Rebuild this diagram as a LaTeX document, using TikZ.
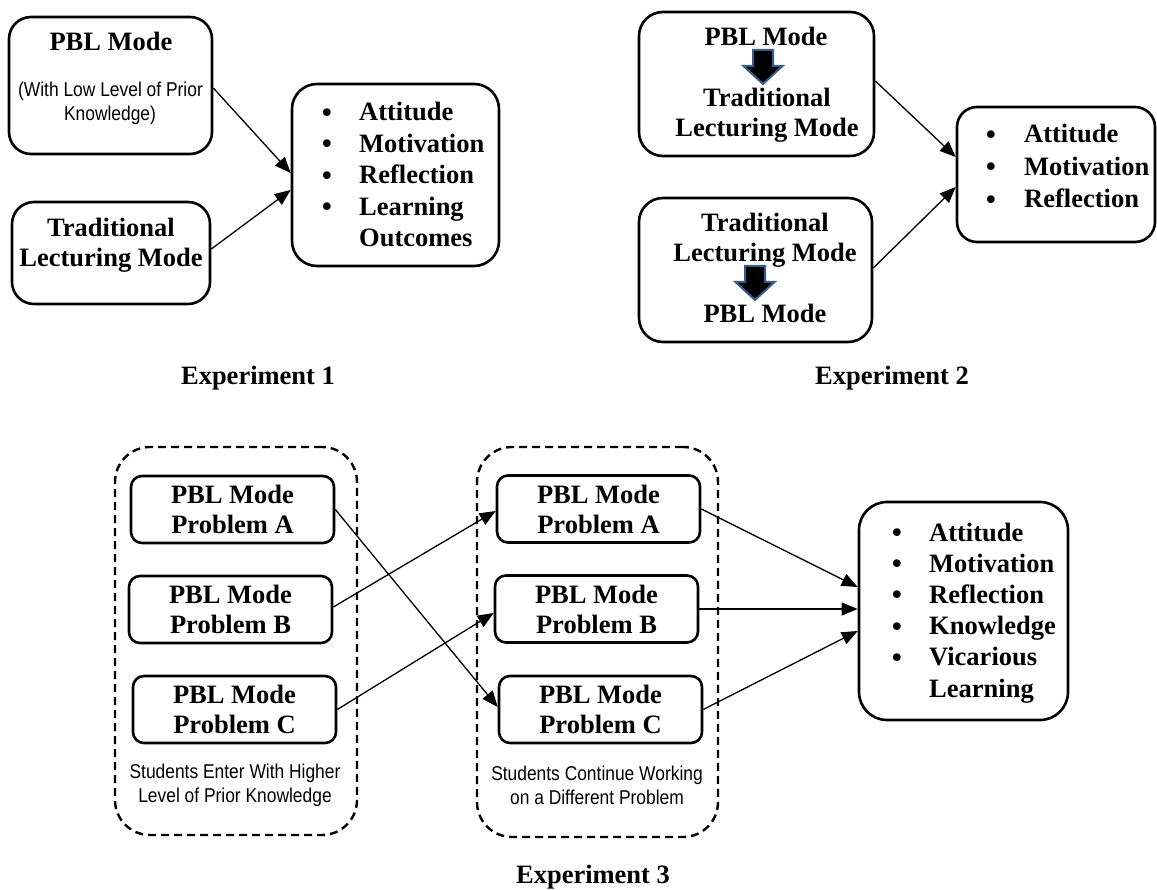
\documentclass[tikz,border=0pt]{standalone}
\usepackage{fontspec}
\setmainfont{Liberation Serif}
\newfontfamily\narrowsf[FakeStretch=0.87]{Liberation Sans}
\newfontfamily\dotfont{DejaVu Sans}
\usetikzlibrary{arrows.meta,calc}
\definecolor{arrowedge}{RGB}{56,93,138}

\begin{document}
\begin{tikzpicture}[x=1pt,y=-1pt,
    box/.style={draw,line width=2.6pt,rounded corners=22pt,inner sep=0pt},
    pbox/.style={box,rounded corners=11pt,minimum width=203pt,minimum height=67pt,
      align=center,font=\bfseries\fontsize{26.5}{30}\selectfont},
    group/.style={draw,line width=2.4pt,dash pattern=on 8pt off 5pt,rounded corners=35pt,inner sep=0pt},
    lab/.style={font=\bfseries\fontsize{26.5}{30}\selectfont,inner sep=0pt,anchor=base},
    item/.style={lab,anchor=base west},
    dot/.style={font=\dotfont\fontsize{26.5}{30}\selectfont,inner sep=0pt,anchor=base,yshift=-1.5pt},
    note/.style={font=\narrowsf\fontsize{20}{24}\selectfont,inner sep=0pt,anchor=base},
    link/.style={-{Triangle[length=16pt,width=13pt]},line width=1.3pt},
    blockarrow/.style={fill=black,draw=arrowedge,line width=2pt,line join=miter}]
  \useasboundingbox (0,0) rectangle (1157,890);

  % Experiment 1
  \node[box,minimum width=203pt,minimum height=137pt] (pbl1) at (110.5,85.5) {};
  \node[lab] (pbl1t) at (111,51) {PBL Mode};
  \node[note] (pbl1n1) at (110.5,97) {(With Low Level of Prior};
  \node[note] (pbl1n2) at (110,121) {Knowledge)};
  \node[box,minimum width=198pt,minimum height=102pt] (trad1) at (111,253) {};
  \node[lab] (trad1t1) at (111,237) {Traditional};
  \node[lab] (trad1t2) at (111,267) {Lecturing Mode};
  \node[box,rounded corners=25pt,minimum width=207pt,minimum height=182pt] (out1) at (395.5,175) {};
  \foreach \w/\mk [count=\i from 0] in {Attitude/1,Motivation/1,Reflection/1,Learning/1,Outcomes/0}{
    \node[item] (out1-\i) at (359,121+31.5*\i) {\w};
    \ifnum\mk=1 \node[dot] (out1-dot\i) at (327,121+31.5*\i) {•};\fi}
  \draw[link] ($(pbl1.east)+(0,2.5)$) -- ($(out1.west)+(0,-2)$);
  \draw[link] ($(trad1.east)+(0,-4)$) -- ($(out1.west)+(0,15)$);
  \node[lab] (exp1) at (258,385) {Experiment 1};

  % Experiment 2
  \node[box,rounded corners=24pt,minimum width=235pt,minimum height=144pt] (mode2a) at (756.5,84) {};
  \node[lab] (mode2a1) at (766,46) {PBL Mode};
  \node[lab] (mode2a2) at (767,107) {Traditional};
  \node[lab] (mode2a3) at (767,137) {Lecturing Mode};
  \node[box,rounded corners=24pt,minimum width=233pt,minimum height=144pt] (mode2b) at (755.5,270) {};
  \node[lab] (mode2b1) at (765,232) {Traditional};
  \node[lab] (mode2b2) at (765,262) {Lecturing Mode};
  \node[lab] (mode2b3) at (765,323) {PBL Mode};
  \foreach \ax/\ay in {763/50,755/266}
    \draw[blockarrow] (\ax-10,\ay) -- (\ax+10,\ay) -- (\ax+10,\ay+16) -- (\ax+19.5,\ay+16)
      -- (\ax,\ay+34) -- (\ax-19.5,\ay+16) -- (\ax-10,\ay+16) -- cycle;
  \node[box,rounded corners=20pt,minimum width=198pt,minimum height=135pt] (out2) at (1056,174.5) {};
  \foreach \w [count=\i from 0] in {Attitude,Motivation,Reflection}{
    \node[item] (out2-\i) at (1024,143+32.5*\i) {\w};
    \node[dot] (out2-dot\i) at (991,143+32.5*\i) {•};}
  \draw[link] ($(mode2a.east)+(0,-3)$) -- ($(out2.west)+(0,-17.5)$);
  \draw[link] ($(mode2b.east)+(0,-2)$) -- ($(out2.west)+(0,12.5)$);
  \node[lab] (exp2) at (892,385) {Experiment 2};

  % Experiment 3
  \node[group,minimum width=242pt,minimum height=388pt] (g1) at (236,641) {};
  \node[group,minimum width=241pt,minimum height=390pt] (g2) at (597.5,642) {};
  \foreach \n/\x/\y/\p in {a1/232.5/509.5/A,b1/230.5/609.5/B,c1/234.5/709.5/C,
                           a2/598.5/509/A,b2/596.5/609/B,c2/600.5/709.5/C}
    \node[pbox] (\n) at (\x,\y) {PBL Mode\\Problem \p};
  \node[note,anchor=center,align=center] (g1note) at (235,785) {Students Enter With Higher\\Level of Prior Knowledge};
  \node[note,anchor=center,align=center] (g2note) at (597,785) {Students Continue Working\\on a Different Problem};
  \node[box,rounded corners=28pt,minimum width=209pt,minimum height=218pt] (out3) at (963.5,611) {};
  \foreach \w/\mk [count=\i from 0] in {Attitude/1,Motivation/1,Reflection/1,Knowledge/1,Vicarious/1,Learning/0}{
    \node[item] (out3-\i) at (929,541+31.2*\i) {\w};
    \ifnum\mk=1 \node[dot] (out3-dot\i) at (897,541+31.2*\i) {•};\fi}
  \draw[link] (a1.east) -- ($(c2.west)+(0,-2.5)$);
  \draw[link] ($(b1.east)+(0,-2.5)$) -- ($(a2.west)+(0,2)$);
  \draw[link] (c1.east) -- ($(b2.west)+(0,4)$);
  \draw[link] (a2.east) -- ($(out3.west)+(0,-24)$);
  \draw[link] (b2.east) -- (b2.east -| out3.west);
  \draw[link] (c2.east) -- ($(out3.west)+(0,20)$);
  \node[lab] (exp3) at (593,883) {Experiment 3};
\end{tikzpicture}
\end{document}
